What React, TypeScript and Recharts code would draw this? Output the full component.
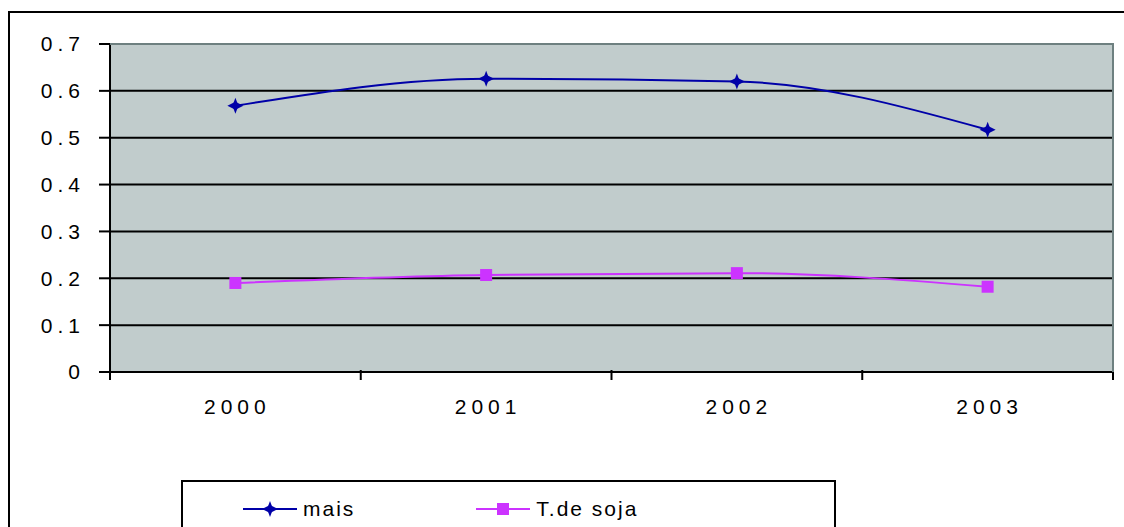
import React from 'react'
import { LineChart, Line, XAxis, YAxis, CartesianGrid } from 'recharts'

const years = ['2000', '2001', '2002', '2003']
const maisValues = [0.568, 0.626, 0.62, 0.517]
const sojaValues = [0.19, 0.207, 0.211, 0.182]
const yTicks = [0, 0.1, 0.2, 0.3, 0.4, 0.5, 0.6, 0.7]

const MAIS = '#0000a8'
const SOJA = '#cc33ff'
const FONT = '"Liberation Sans", Arial, sans-serif'

const data = years.map((year, i) => ({ year, mais: maisValues[i], soja: sojaValues[i] }))

const BAND = 1003 / 4

const StarDot = (props: any) => {
  const { cx, cy } = props
  if (cx == null || cy == null) return null
  return (
    <g>
      <path d={`M${cx - 8},${cy} L${cx},${cy - 4} L${cx + 8},${cy} L${cx},${cy + 4} Z`} fill={MAIS} />
      <path d={`M${cx},${cy - 8} L${cx + 3},${cy} L${cx},${cy + 8} L${cx - 3},${cy} Z`} fill={MAIS} />
    </g>
  )
}

const SquareDot = (props: any) => {
  const { cx, cy } = props
  if (cx == null || cy == null) return null
  return <rect x={cx - 6} y={cy - 6} width={12} height={12} fill={SOJA} />
}

const XTick = (props: any) => {
  const { x, y, payload, index } = props
  return (
    <g>
      <line x1={x - BAND / 2} y1={y - 10} x2={x - BAND / 2} y2={y} stroke="#000" strokeWidth={2} />
      {index === years.length - 1 && (
        <line x1={x + BAND / 2} y1={y - 10} x2={x + BAND / 2} y2={y} stroke="#000" strokeWidth={2} />
      )}
      <text x={x + 2} y={y + 34} textAnchor="middle" fontFamily={FONT} fontSize={21} letterSpacing={5} fill="#000">
        {payload.value}
      </text>
    </g>
  )
}

const LegendItem = ({ color, label, square }: { color: string; label: string; square?: boolean }) => (
  <div style={{ display: 'flex', alignItems: 'center' }}>
    <svg width={54} height={20}>
      <line x1={0} y1={10} x2={54} y2={10} stroke={color} strokeWidth={2} />
      {square ? (
        <rect x={21} y={4} width={12} height={12} fill={color} />
      ) : (
        <g>
          <path d="M19,10 L27,6 L35,10 L27,14 Z" fill={color} />
          <path d="M27,2 L30,10 L27,18 L24,10 Z" fill={color} />
        </g>
      )}
    </svg>
    <span style={{ marginLeft: 6, fontFamily: FONT, fontSize: 21, letterSpacing: 2 }}>{label}</span>
  </div>
)

export default function App() {
  return (
    <div style={{ position: 'absolute', left: 0, top: 0, width: 1124, height: 527, background: '#fff', overflow: 'hidden' }}>
      <div style={{ position: 'absolute', left: 8, top: 11, width: 1140, height: 540, border: '2px solid #000' }} />
      <div style={{ position: 'absolute', left: 0, top: 0 }}>
        <LineChart width={1124} height={527} data={data} margin={{ top: 44, right: 11, left: 0, bottom: 115 }}>
          <CartesianGrid vertical={false} stroke="#000" strokeWidth={2} fill="#c1cccc" />
          <XAxis
            dataKey="year"
            height={40}
            padding={{ left: BAND / 2, right: BAND / 2 }}
            axisLine={{ stroke: '#000', strokeWidth: 2 }}
            tickLine={false}
            tick={<XTick />}
            interval={0}
          />
          <YAxis
            width={110}
            domain={[0, 0.7]}
            ticks={yTicks}
            interval={0}
            axisLine={{ stroke: '#000', strokeWidth: 2 }}
            tickLine={{ stroke: '#000', strokeWidth: 2 }}
            tickSize={11}
            tickMargin={14}
            tickFormatter={(v: number) => (v === 0 ? '0' : v.toFixed(1))}
            tick={{ fontFamily: FONT, fontSize: 21, fill: '#000', letterSpacing: 5 }}
          />
          <Line type="monotone" dataKey="mais" stroke={MAIS} strokeWidth={2} dot={<StarDot />} isAnimationActive={false} />
          <Line type="monotone" dataKey="soja" stroke={SOJA} strokeWidth={2} dot={<SquareDot />} isAnimationActive={false} />
        </LineChart>
      </div>
      <div style={{ position: 'absolute', left: 1112, top: 44, width: 2, height: 328, background: '#6e8080' }} />
      <div style={{ position: 'absolute', left: 110, top: 43, width: 1004, height: 2, background: '#6e8080' }} />
      <div
        style={{
          position: 'absolute',
          left: 181,
          top: 480,
          width: 655,
          height: 60,
          border: '2px solid #000',
          background: '#fff',
          display: 'flex',
          alignItems: 'flex-start',
          paddingTop: 15,
          boxSizing: 'border-box',
        }}
      >
        <div style={{ marginLeft: 60 }}>
          <LegendItem color={MAIS} label="mais" />
        </div>
        <div style={{ marginLeft: 121 }}>
          <LegendItem color={SOJA} label="T.de soja" square />
        </div>
      </div>
    </div>
  )
}
